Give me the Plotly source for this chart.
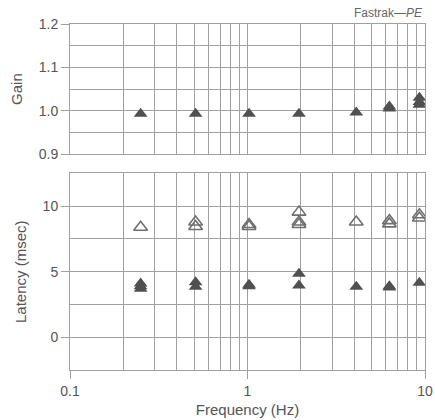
import plotly.graph_objects as go

# Data
gain_freq = [0.25, 0.51, 1.02, 1.95, 4.1, 6.3, 6.3, 9.3, 9.3, 9.3]
gain_vals = [0.993, 0.993, 0.993, 0.993, 0.996, 1.005, 1.010, 1.030, 1.014, 1.020]

lat_open_freq = [0.25, 0.51, 0.51, 1.02, 1.02, 1.95, 1.95, 1.95, 4.1, 6.3, 6.3, 9.3, 9.3]
lat_open_vals = [8.4, 8.8, 8.45, 8.6, 8.45, 9.55, 8.8, 8.6, 8.8, 8.9, 8.65, 9.35, 9.1]

lat_fill_freq = [0.25, 0.25, 0.25, 0.51, 0.51, 1.02, 1.02, 1.95, 1.95, 4.1, 6.3, 6.3, 9.3]
lat_fill_vals = [4.1, 3.9, 3.7, 4.2, 3.85, 3.9, 4.0, 4.85, 3.95, 3.85, 3.8, 3.9, 4.15]

x_tickvals = [0.1, 1, 10]
x_ticktext = ["0.1", "1", "10"]

GRID = "#a0a0a0"
TXT = "#555555"
FILL = "#505050"
OPEN = "#707070"

fig = go.Figure()
fig.add_trace(go.Scatter(x=gain_freq, y=gain_vals, mode="markers",
                         marker=dict(symbol="triangle-up", size=12, color=FILL),
                         xaxis="x", yaxis="y", showlegend=False))
fig.add_trace(go.Scatter(x=lat_open_freq, y=lat_open_vals, mode="markers",
                         marker=dict(symbol="triangle-up-open", size=12, color=OPEN,
                                     line=dict(width=1.6, color=OPEN)),
                         xaxis="x2", yaxis="y2", showlegend=False))
fig.add_trace(go.Scatter(x=lat_fill_freq, y=lat_fill_vals, mode="markers",
                         marker=dict(symbol="triangle-up", size=12, color=FILL),
                         xaxis="x2", yaxis="y2", showlegend=False))

xcommon = dict(type="log", range=[-1, 1], showgrid=True, gridcolor=GRID, gridwidth=1,
               tickvals=x_tickvals, ticktext=x_ticktext, automargin=False,
               minor=dict(dtick="D1", showgrid=True, gridcolor=GRID, gridwidth=1),
               showline=True, linecolor=GRID, linewidth=1, mirror=True,
               zeroline=False, tickfont=dict(size=14, color=TXT))

fig.update_layout(
    width=435, height=420,
    margin=dict(l=70, r=10, t=24, b=50),
    paper_bgcolor="white", plot_bgcolor="white",
    font=dict(family="Liberation Sans, Arial, sans-serif", color=TXT),
    xaxis=dict(**xcommon, anchor="y", showticklabels=False, ticks=""),
    yaxis=dict(domain=[0.624, 1.0], range=[0.9, 1.2], dtick=0.1, tick0=0.9,
               tickformat=".1f", showgrid=True, gridcolor=GRID,
               minor=dict(dtick=0.05, showgrid=True, gridcolor=GRID),
               showline=True, linecolor=GRID, mirror=True, zeroline=False,
               ticks="outside", ticklen=8, tickcolor=GRID, automargin=False,
               tickfont=dict(size=14, color=TXT),
               title=dict(text="Gain", font=dict(size=15, color=TXT), standoff=12)),
    xaxis2=dict(**xcommon, anchor="y2", ticks="outside", ticklen=8, tickcolor=GRID,
                title=dict(text="Frequency (Hz)", font=dict(size=15, color=TXT), standoff=6)),
    yaxis2=dict(domain=[0.0, 0.568], range=[-2.5, 12.5], dtick=5, tick0=0,
                showgrid=True, gridcolor=GRID,
                minor=dict(dtick=2.5, tick0=0, showgrid=True, gridcolor=GRID),
                showline=True, linecolor=GRID, mirror=True, zeroline=False,
                ticks="outside", ticklen=8, tickcolor=GRID, automargin=False,
                tickfont=dict(size=14, color=TXT),
                title=dict(text="Latency (msec)", font=dict(size=15, color=TXT), standoff=12)),
    annotations=[dict(text="Fastrak\u2014<i>PE</i>", x=1, y=1, xref="paper", yref="paper",
                      xanchor="right", yanchor="bottom", showarrow=False, yshift=2,
                      font=dict(size=12, color="#666666"))],
)

fig.write_html("out.html")
